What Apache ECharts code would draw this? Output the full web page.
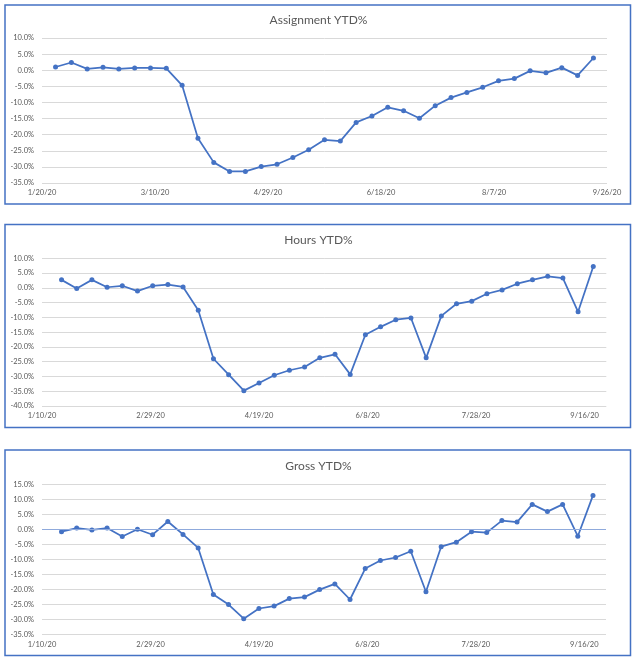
<!DOCTYPE html>
<html>
<head>
<meta charset="utf-8">
<script src="https://cdn.jsdelivr.net/npm/echarts@6/dist/echarts.min.js"></script>
<style>
html,body{margin:0;padding:0;background:#fff;}
#c{width:637px;height:662px;}
</style>
</head>
<body>
<div id="c"></div>
<script>
// ---- data ----
const titles = ['Assignment YTD%', 'Hours YTD%', 'Gross YTD%'];
const assignDates = ['1/26','2/2','2/9','2/16','2/23','3/1','3/8','3/15','3/22','3/29','4/5','4/12','4/19','4/26','5/3','5/10','5/17','5/24','5/31','6/7','6/14','6/21','6/28','7/5','7/12','7/19','7/26','8/2','8/9','8/16','8/23','8/30','9/6','9/13','9/20'];
const hoursDates = ['1/19','1/26','2/2','2/9','2/16','2/23','3/1','3/8','3/15','3/22','3/29','4/5','4/12','4/19','4/26','5/3','5/10','5/17','5/24','5/31','6/7','6/14','6/21','6/28','7/5','7/12','7/19','7/26','8/2','8/9','8/16','8/23','8/30','9/6','9/13','9/20'];
const grossDates = hoursDates;
const assignment = [1.0, 2.4, 0.4, 0.9, 0.4, 0.7, 0.7, 0.6, -4.7, -21.1, -28.6, -31.4, -31.4, -29.9, -29.2, -27.1, -24.7, -21.6, -22.0, -16.2, -14.2, -11.5, -12.6, -14.9, -11.0, -8.5, -6.9, -5.3, -3.3, -2.6, -0.2, -0.8, 0.8, -1.6, 3.8];
const hours = [2.7, -0.2, 2.7, 0.2, 0.7, -1.1, 0.7, 1.1, 0.3, -7.6, -24.0, -29.4, -34.8, -32.2, -29.6, -27.9, -26.8, -23.7, -22.5, -29.3, -15.9, -13.2, -10.8, -10.2, -23.7, -9.5, -5.4, -4.5, -2.0, -0.7, 1.4, 2.7, 3.9, 3.3, -8.1, 7.2];
const gross = [-0.8, 0.4, -0.2, 0.4, -2.4, 0.0, -1.8, 2.6, -1.7, -6.2, -21.7, -25.1, -29.8, -26.4, -25.6, -23.1, -22.6, -20.1, -18.2, -23.4, -13.1, -10.4, -9.4, -7.3, -20.8, -5.8, -4.3, -0.8, -1.1, 2.9, 2.4, 8.3, 5.9, 8.3, -2.3, 11.3];
// x-axis: start dates and end dates of each date axis, tick step in days
const xStart = ['1/20', '1/10', '1/10'];
const xEnd = ['9/26', '9/26', '9/26'];
const xStepDays = 50;
// y-axis ranges
const yMin = [-35, -40, -35];
const yMax = [10, 10, 15];
const yStep = 5;

// ---- helpers ----
const DAY = 86400000;
function toTs(md) { const p = md.split('/'); return Date.UTC(2020, +p[0] - 1, +p[1]); }
function dayOff(md, origin) { return Math.round((toTs(md) - toTs(origin)) / DAY); }
function fmtDay(d, origin) {
  const dt = new Date(toTs(origin) + d * DAY);
  return (dt.getUTCMonth() + 1) + '/' + dt.getUTCDate() + '/20';
}

const FONT = 'Lato';
const LABEL = '#595959';
const BLUE = '#4472c4';

const panels = [
  {top: 5, h: 199, gridTop: 38, gridH: 145, gridW: 565, titleY: 14},
  {top: 224.5, h: 203, gridTop: 258.3, gridH: 147.7, gridW: 564.3, titleY: 234},
  {top: 450, h: 205.5, gridTop: 484.3, gridH: 150, gridW: 564, titleY: 460}
];
const dateSets = [assignDates, hoursDates, grossDates];
const valueSets = [assignment, hours, gross];

const option = {
  backgroundColor: '#fff',
  animation: false,
  graphic: panels.map(p => ({
    type: 'rect', z: -10, silent: true,
    shape: {x: 5, y: p.top, width: 625.5, height: p.h},
    style: {fill: '#fff', stroke: BLUE, lineWidth: 1.5}
  })),
  title: panels.map((p, i) => ({
    text: titles[i], left: 'center', top: p.titleY, padding: 0,
    textStyle: {fontFamily: FONT, fontSize: 12, fontWeight: 'normal', color: LABEL}
  })),
  grid: panels.map(p => ({left: 42, top: p.gridTop, width: p.gridW, height: p.gridH})),
  xAxis: panels.map((p, i) => ({
    type: 'value', gridIndex: i,
    min: 0, max: dayOff(xEnd[i], xStart[i]), interval: xStepDays,
    axisLine: {show: false}, axisTick: {show: false}, splitLine: {show: false},
    axisLabel: {
      fontFamily: FONT, fontSize: 7.5, color: LABEL, margin: 6, showMaxLabel: true,
      formatter: v => (v % xStepDays === 0 ? fmtDay(v, xStart[i]) : '')
    }
  })),
  yAxis: panels.map((p, i) => ({
    type: 'value', gridIndex: i, min: yMin[i], max: yMax[i], interval: yStep,
    axisLine: {show: false}, axisTick: {show: false},
    splitLine: {lineStyle: {color: '#d9d9d9', width: 1}},
    axisLabel: {fontFamily: FONT, fontSize: 7.5, color: LABEL, margin: 8,
      formatter: v => v.toFixed(1) + '%'}
  })),
  series: panels.map((p, i) => {
    const s = {
      type: 'line', xAxisIndex: i, yAxisIndex: i,
      data: dateSets[i].map((d, k) => [dayOff(d, xStart[i]), valueSets[i][k]]),
      symbol: 'circle', symbolSize: 5,
      lineStyle: {color: BLUE, width: 1.75},
      itemStyle: {color: BLUE}
    };
    if (i === 2) {
      s.markLine = {
        silent: true, symbol: 'none', label: {show: false},
        lineStyle: {color: '#8faadc', width: 1, type: 'solid'},
        data: [{yAxis: 0}]
      };
    }
    return s;
  })
};

const chart = echarts.init(document.getElementById('c'));
chart.setOption(option);
</script>
</body>
</html>
